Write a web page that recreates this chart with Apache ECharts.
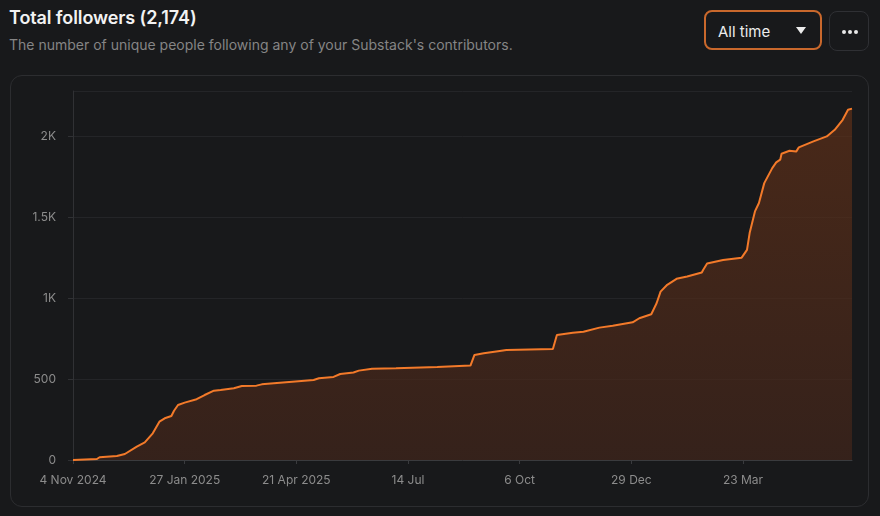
<!DOCTYPE html>
<html>
<head>
<meta charset="utf-8">
<script src="https://cdn.jsdelivr.net/npm/echarts@6/dist/echarts.min.js"></script>
<style>
  html, body { margin:0; padding:0; width:880px; height:516px; background:#18191b; overflow:hidden; font-family: Inter, "Noto Sans", sans-serif; }
  #title { position:absolute; left:9px; top:7px; font-size:18px; font-weight:600; color:#f2f2f2; letter-spacing:-0.1px; }
  #sub { position:absolute; left:9px; top:36px; font-size:14px; color:#858585; }
  #dd { position:absolute; left:704px; top:10px; width:114px; height:36px; border:2px solid #c9682c; border-radius:8px; box-sizing:content-box; }
  #dd span { position:absolute; left:12px; top:10px; font-size:15px; color:#ececec; }
  #dd i { position:absolute; left:90px; top:15px; width:0; height:0; border-left:5px solid transparent; border-right:5px solid transparent; border-top:7px solid #ececec; }
  #more { position:absolute; left:829px; top:11px; width:38px; height:38px; border:1px solid #2f3034; border-radius:8px; }
  #more b { position:absolute; top:18px; width:4px; height:4px; border-radius:2px; background:#e8e8e8; }
  #panel { position:absolute; left:10px; top:75px; width:857px; height:430px; border:1px solid #2c2d30; border-radius:12px; }
  #chart { position:absolute; left:0; top:0; width:880px; height:516px; }
</style>
</head>
<body>
<div id="title">Total followers (2,174)</div>
<div id="sub">The number of unique people following any of your Substack's contributors.</div>
<div id="dd"><span>All time</span><i></i></div>
<div id="more"><b style="left:12px"></b><b style="left:18px"></b><b style="left:24px"></b></div>
<div id="panel"></div>
<div id="chart"></div>
<script>
const startDate = '2024-11-04';
const dates = [
  '2024-11-04','2024-11-22','2024-11-24','2024-12-07','2024-12-13','2024-12-22','2024-12-28',
  '2025-01-03','2025-01-08','2025-01-12','2025-01-17','2025-01-19','2025-01-22','2025-01-27',
  '2025-02-05','2025-02-11','2025-02-18','2025-02-23','2025-03-05','2025-03-11','2025-03-22',
  '2025-03-26','2025-04-11','2025-05-04','2025-05-08','2025-05-19','2025-05-24','2025-06-03',
  '2025-06-07','2025-06-17','2025-07-05','2025-08-05','2025-08-30','2025-08-31','2025-09-02',
  '2025-09-09','2025-09-21','2025-09-26','2025-10-31','2025-11-03','2025-11-15','2025-11-23',
  '2025-12-05','2025-12-15','2025-12-30','2026-01-04','2026-01-13','2026-01-17','2026-01-20',
  '2026-01-25','2026-02-01','2026-02-09','2026-02-20','2026-02-21','2026-02-24','2026-03-08',
  '2026-03-22','2026-03-26','2026-03-28','2026-04-01','2026-04-04','2026-04-08','2026-04-14',
  '2026-04-17','2026-04-20','2026-04-21','2026-04-27','2026-05-02','2026-05-04','2026-05-15',
  '2026-05-25','2026-05-31','2026-06-06','2026-06-10','2026-06-13'
];
const followers = [
  0,6,17,25,37,83,109,
  165,237,258,272,305,340,355,
  376,402,429,433,444,458,460,
  468,479,495,506,514,532,541,
  553,565,567,576,584,586,650,
  660,675,681,687,774,788,793,
  819,830,852,877,902,970,1042,
  1084,1121,1135,1160,1176,1216,1238,
  1252,1300,1404,1538,1590,1713,1806,
  1841,1858,1895,1913,1908,1934,1971,
  2002,2043,2105,2167,2174
];
const xTickLabels = ['4 Nov 2024','27 Jan 2025','21 Apr 2025','14 Jul','6 Oct','29 Dec','23 Mar'];
const yTickLabels = ['0','500','1K','1.5K','2K'];

const DAY = 86400000;
const t0 = Date.parse(startDate);
const dayOf = d => Math.round((Date.parse(d) - t0) / DAY);
const seriesData = dates.map((d, i) => [dayOf(d), followers[i]]);
const lastDay = dayOf(dates[dates.length - 1]);

const chart = echarts.init(document.getElementById('chart'), null, {renderer:'canvas'});
chart.setOption({
  backgroundColor: 'transparent',
  animation: false,
  grid: { left: 73, right: 28, top: 91, bottom: 56 },
  xAxis: {
    type: 'value', min: 0, max: lastDay, interval: 84,
    axisLine: { show: true, lineStyle: { color: '#3a3b3e', width: 1 } },
    axisTick: { show: true, length: 4, lineStyle: { color: '#3a3b3e' } },
    splitLine: { show: false },
    axisLabel: {
      color: '#8c8c8c', fontSize: 12, margin: 14, fontFamily: 'Inter',
      showMaxLabel: false,
      formatter: v => (v % 84 === 0 ? (xTickLabels[v / 84] || '') : '')
    }
  },
  yAxis: {
    type: 'value', min: 0, max: Math.round(followers[followers.length - 1] * 1.05), interval: 500,
    axisLine: { show: true, lineStyle: { color: '#303134', width: 1 } },
    axisTick: { show: true, length: 5, lineStyle: { color: '#303134' } },
    splitLine: { show: true, lineStyle: { color: '#242528', width: 1 } },
    axisLabel: {
      color: '#8c8c8c', fontSize: 12, margin: 17, fontFamily: 'Inter',
      showMaxLabel: false,
      formatter: v => (v % 500 === 0 ? (yTickLabels[v / 500] || '') : '')
    }
  },
  series: [{
    type: 'line',
    data: seriesData,
    showSymbol: false,
    symbol: 'none',
    lineStyle: { color: '#f37a2a', width: 2 },
    itemStyle: { color: '#f37a2a' },
    areaStyle: {
      color: new echarts.graphic.LinearGradient(0, 0, 0, 1, [
        { offset: 0, color: '#5e3018' },
        { offset: 1, color: '#42261b' }
      ])
    }
  }]
});
</script>
</body>
</html>
